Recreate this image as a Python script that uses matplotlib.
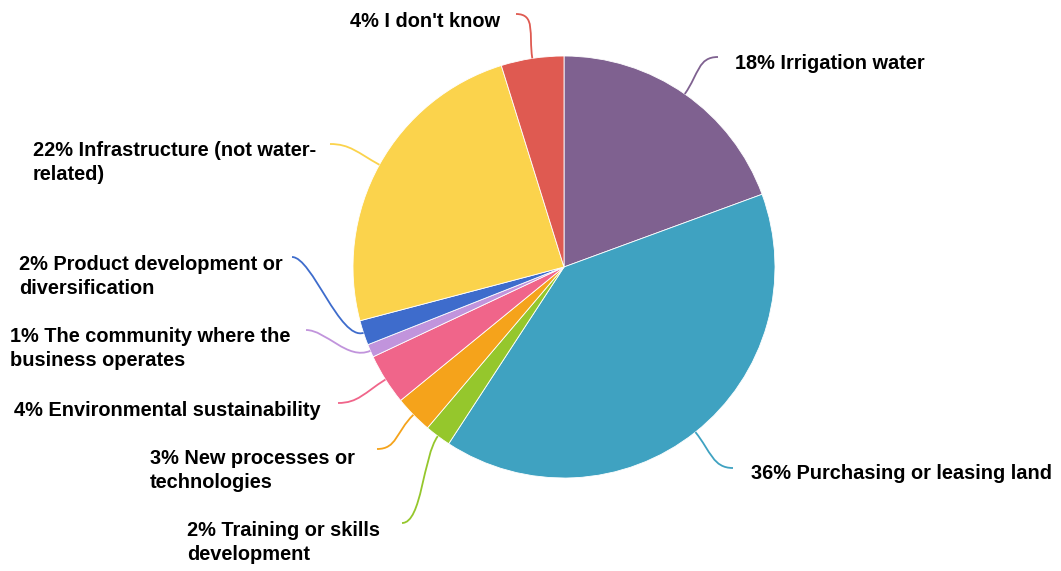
import numpy as np
import matplotlib
matplotlib.use('Agg')
import matplotlib.pyplot as plt
from matplotlib.path import Path
from matplotlib.patches import PathPatch

labels = ['Irrigation water', 'Purchasing or leasing land', 'Training or skills\ndevelopment',
          'New processes or\ntechnologies', 'Environmental sustainability',
          'The community where the\nbusiness operates', 'Product development or\ndiversification',
          'Infrastructure (not water-\nrelated)', "I don't know"]
# percentages printed in the labels
pct_labels = [18, 36, 2, 3, 4, 1, 2, 22, 4]
# slice sizes as measured from the chart (share of the circle, %)
shares = [19.4, 39.8, 2.0, 2.9, 3.9, 1.0, 1.9, 24.3, 4.8]
colors = ['#7f6190', '#3fa2c1', '#95c72c', '#f5a31b', '#f0658a',
          '#c194dc', '#3e6ccc', '#fbd34c', '#df5a51']

# label anchor positions (pixels, origin top-left) and the end of each connector
label_xy = [(735, 61), (751, 471), (187, 528), (150, 456), (14, 408),
            (10, 334), (19, 262), (33, 148), (350, 19)]
conn_end = [(718, 57), (733, 468), (402, 523), (377, 449), (338, 403),
            (306, 330), (292, 257), (330, 144), (516, 14)]

W, H = 1061, 571
cx, cy, r = 564, 267, 211

fig = plt.figure(figsize=(W / 100, H / 100), dpi=100)
ax = fig.add_axes([0, 0, 1, 1])

# y axis is inverted, so counterclock=True draws clockwise on screen
wedges, _ = ax.pie(shares, colors=colors, center=(cx, cy), radius=r,
                   startangle=-90, counterclock=True,
                   wedgeprops=dict(edgecolor='white', linewidth=0.6))
ax.set_xlim(0, W)
ax.set_ylim(H, 0)
ax.set_aspect('equal')
ax.axis('off')

for w, lab, val, col, (lx, ly), (ex, ey) in zip(wedges, labels, pct_labels, colors, label_xy, conn_end):
    mid = np.deg2rad((w.theta1 + w.theta2) / 2)
    sx, sy = cx + r * np.cos(mid), cy + r * np.sin(mid)
    ux, uy = np.cos(mid), np.sin(mid)
    side = 1 if ex > sx else -1
    p1 = (sx + ux * 25, sy + uy * 25)
    p2 = (ex - side * 20, ey)
    path = Path([(sx, sy), p1, p2, (ex, ey)],
                [Path.MOVETO, Path.CURVE4, Path.CURVE4, Path.CURVE4])
    ax.add_patch(PathPatch(path, facecolor='none', edgecolor=col, linewidth=1.3))
    ax.text(lx, ly - 7, '%d%% %s' % (val, lab), ha='left', va='top',
            fontsize=14.4, fontweight='bold', family='Liberation Sans',
            linespacing=1.3, color='black')

fig.savefig('out.png', dpi=100)
